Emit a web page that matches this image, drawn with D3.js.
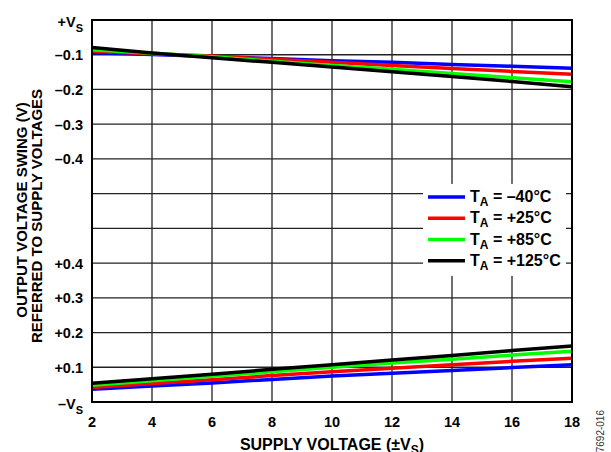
<!DOCTYPE html>
<html>
<head>
<meta charset="utf-8">
<script src="https://cdn.jsdelivr.net/npm/d3@7"></script>
<style>
  body { margin: 0; background: #fff; }
  text { font-family: Arial, "Liberation Sans", sans-serif; font-weight: bold; fill: #000; }
</style>
</head>
<body>
<div id="chart"></div>
<script>
// supply voltage (±VS)
var supply = [2, 4, 6, 8, 10, 12, 14, 16, 18];

// swing referred to +VS (V)
var highM40 = [-0.094, -0.099, -0.105, -0.111, -0.117, -0.122, -0.128, -0.133, -0.139];
var high25 = [-0.090, -0.097, -0.104, -0.113, -0.122, -0.131, -0.140, -0.148, -0.156];
var high85 = [-0.086, -0.096, -0.106, -0.119, -0.131, -0.142, -0.154, -0.166, -0.178];
var high125 = [-0.079, -0.095, -0.109, -0.122, -0.135, -0.149, -0.163, -0.177, -0.192];

// swing referred to -VS (V)
var lowM40 = [0.037, 0.046, 0.055, 0.065, 0.075, 0.083, 0.091, 0.099, 0.107];
var low25 = [0.042, 0.053, 0.064, 0.076, 0.087, 0.097, 0.107, 0.117, 0.126];
var low85 = [0.048, 0.061, 0.074, 0.087, 0.100, 0.112, 0.123, 0.135, 0.146];
var low125 = [0.054, 0.067, 0.080, 0.094, 0.107, 0.121, 0.134, 0.148, 0.161];

var seriesNames = ["–40°C", "+25°C", "+85°C", "+125°C"];
var seriesColors = ["#0000ff", "#ff0000", "#00ff00", "#000000"];

// y tick labels, one per grid division from -VS (bottom) to +VS (top)
var yTickLabels = ["–V|S", "+0.1", "+0.2", "+0.3", "+0.4", "", "", "–0.4", "–0.3", "–0.2", "–0.1", "+V|S"];
var xTicks = [2, 4, 6, 8, 10, 12, 14, 16, 18];

var svgWidth = 611, svgHeight = 452;
var margin = { top: 20, right: 39, bottom: 50, left: 92 };
var width = svgWidth - margin.left - margin.right;
var height = svgHeight - margin.top - margin.bottom;

var svg = d3.select("#chart").append("svg")
  .attr("width", svgWidth)
  .attr("height", svgHeight);

var g = svg.append("g")
  .attr("transform", `translate(${margin.left}, ${margin.top})`);

var x = d3.scaleLinear().domain([2, 18]).range([0, width]);
// y in grid divisions: 0 = -VS, 11 = +VS, 0.1 V per division
var y = d3.scaleLinear().domain([0, 11]).range([height, 0]);
var yHigh = v => y(11 + v * 10);
var yLow = v => y(v * 10);

// grid
g.append("g").selectAll("line").data(xTicks).enter().append("line")
  .attr("x1", d => x(d)).attr("x2", d => x(d))
  .attr("y1", 0).attr("y2", height)
  .attr("stroke", "#222").attr("stroke-width", 1.3);
g.append("g").selectAll("line").data(d3.range(yTickLabels.length)).enter().append("line")
  .attr("x1", 0).attr("x2", width)
  .attr("y1", d => y(d)).attr("y2", d => y(d))
  .attr("stroke", "#222").attr("stroke-width", 1.3);

// lines
var line = function (fy) {
  return d3.line().x((d, i) => x(supply[i])).y(d => fy(d));
};
var highs = [highM40, high25, high85, high125];
var lows = [lowM40, low25, low85, low125];
highs.forEach(function (s, i) {
  g.append("path").datum(s).attr("d", line(yHigh))
    .attr("fill", "none").attr("stroke", seriesColors[i]).attr("stroke-width", 3.5);
});
lows.forEach(function (s, i) {
  g.append("path").datum(s).attr("d", line(yLow))
    .attr("fill", "none").attr("stroke", seriesColors[i]).attr("stroke-width", 3.5);
});

// legend
var leg = g.append("g").attr("transform", `translate(${x(14) - 29}, ${y(6.28)})`);
leg.append("rect").attr("x", 0).attr("y", 0).attr("width", 143).attr("height", 92).attr("fill", "#fff");
seriesNames.forEach(function (name, i) {
  var ly = 13 + i * 21.3;
  leg.append("line").attr("x1", 5).attr("x2", 42).attr("y1", ly).attr("y2", ly)
    .attr("stroke", seriesColors[i]).attr("stroke-width", 3.5);
  var t = leg.append("text").attr("x", 47).attr("y", ly + 5).style("font-size", "16px");
  t.append("tspan").text("T");
  t.append("tspan").attr("dy", 4).style("font-size", "12px").text("A");
  t.append("tspan").attr("dy", -4).text(" = " + name);
});

// border
g.append("rect").attr("width", width).attr("height", height)
  .attr("fill", "none").attr("stroke", "#000").attr("stroke-width", 2);

// y tick labels
yTickLabels.forEach(function (lab, i) {
  if (!lab) return;
  var parts = lab.split("|");
  var t = g.append("text").attr("x", -9).attr("y", y(i) + (parts[1] ? 7 : 5.5))
    .attr("text-anchor", "end").style("font-size", "14.5px");
  t.append("tspan").text(parts[0]);
  if (parts[1]) t.append("tspan").attr("dy", 5).style("font-size", "11px").text(parts[1]);
});

// x tick labels
g.append("g").selectAll("text").data(xTicks).enter().append("text")
  .attr("x", d => x(d)).attr("y", height + 25)
  .attr("text-anchor", "middle").style("font-size", "14.5px")
  .text(d => d);

// axis titles
var xt = g.append("text").attr("x", width / 2).attr("y", height + 48)
  .attr("text-anchor", "middle").style("font-size", "16px");
xt.append("tspan").text("SUPPLY VOLTAGE (±V");
xt.append("tspan").attr("dy", 4).style("font-size", "12px").text("S");
xt.append("tspan").attr("dy", -4).text(")");

svg.append("text").attr("transform", "translate(27, 210) rotate(-90)")
  .attr("text-anchor", "middle").style("font-size", "15px")
  .text("OUTPUT VOLTAGE SWING (V)");
svg.append("text").attr("transform", "translate(42, 216) rotate(-90)")
  .attr("text-anchor", "middle").style("font-size", "15px")
  .text("REFERRED TO SUPPLY VOLTAGES");

svg.append("text").attr("transform", "translate(604, 410) rotate(-90)")
  .attr("text-anchor", "end")
  .style("font-size", "10px").style("font-weight", "normal").style("fill", "#333")
  .text("07692-016");
</script>
</body>
</html>
